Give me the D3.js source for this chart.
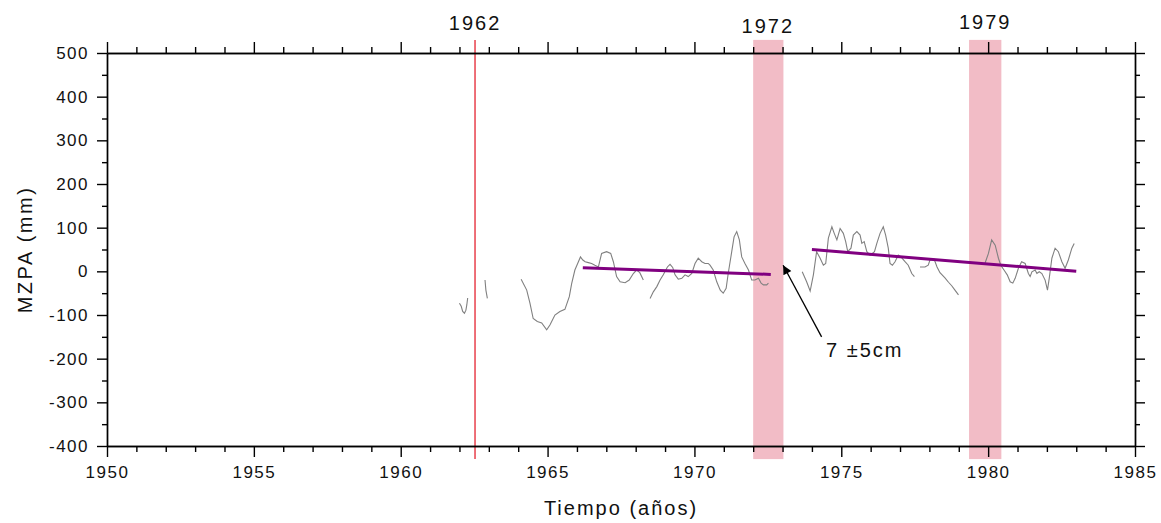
<!DOCTYPE html>
<html><head><meta charset="utf-8">
<script src="https://cdn.jsdelivr.net/npm/d3@7"></script>
<style>
html,body{margin:0;padding:0;background:#fff;}
svg{display:block;font-family:"Liberation Sans",Arial,sans-serif;}
</style></head>
<body>
<svg id="chart" width="1161" height="523"></svg>
<script>
// ---- data ----
const xDomain = [1950, 1985];
const yDomain = [-400, 500];
const xMajorTicks = [1950, 1955, 1960, 1965, 1970, 1975, 1980, 1985];
const yMajorTicks = [-400, -300, -200, -100, 0, 100, 200, 300, 400, 500];

// shaded event bands [start, end] (years)
const bandStarts = [1972.0, 1979.35];
const bandEnds   = [1973.03, 1980.45];
const markerYear = 1962.53;
const eventLabels = ["1962", "1972", "1979"];
const eventLabelYears = [1962.53, 1972.5, 1979.9];

// monthly sea-level anomaly segments [year, mm]
const seg1962a = [[1962.00,-73],[1962.06,-80],[1962.11,-92],[1962.17,-96],[1962.22,-89],[1962.25,-77],[1962.28,-61]];
const seg1962b = [[1962.87,-20],[1962.90,-43],[1962.95,-62]];
const seg1964 = [[1964.10,-18],[1964.29,-43],[1964.40,-73],[1964.51,-108],[1964.65,-115],[1964.80,-118],[1964.97,-134],
  [1965.08,-123],[1965.25,-100],[1965.42,-92],[1965.59,-87],[1965.74,-58],[1965.82,-28],[1965.93,3],[1966.05,22],
  [1966.12,33],[1966.20,26],[1966.28,22],[1966.39,20],[1966.50,18],[1966.61,14],[1966.73,10],[1966.84,41],[1967.01,45],
  [1967.15,41],[1967.24,22],[1967.35,-12],[1967.47,-24],[1967.64,-26],[1967.78,-20],[1967.92,-5],[1968.03,3],
  [1968.14,-3],[1968.26,-20]];
const seg1968 = [[1968.49,-62],[1968.60,-47],[1968.72,-35],[1968.83,-20],[1968.94,-8],[1969.08,10],[1969.17,16],
  [1969.26,9],[1969.34,-8],[1969.45,-18],[1969.57,-16],[1969.68,-8],[1969.79,-12],[1969.91,-5],[1970.02,18],
  [1970.13,30],[1970.25,22],[1970.36,18],[1970.47,18],[1970.53,14],[1970.64,3],[1970.76,-24],[1970.88,-43],
  [1970.98,-50],[1971.08,-39],[1971.15,-5],[1971.27,45],[1971.35,79],[1971.44,91],[1971.53,72],[1971.61,33],
  [1971.72,18],[1971.84,3],[1971.95,-20],[1972.06,-20],[1972.18,-16],[1972.27,-27],[1972.35,-31],[1972.46,-31],
  [1972.52,-27]];
const seg1974 = [[1973.67,-1],[1973.82,-24],[1973.94,-45],[1974.05,-8],[1974.16,45],[1974.28,30],[1974.39,14],
  [1974.47,18],[1974.56,76],[1974.68,102],[1974.76,87],[1974.85,72],[1974.96,98],[1975.07,87],[1975.15,68],
  [1975.22,45],[1975.33,53],[1975.41,83],[1975.53,91],[1975.64,83],[1975.70,64],[1975.78,68],[1975.87,45],
  [1975.98,37],[1976.13,45],[1976.21,64],[1976.32,87],[1976.43,102],[1976.51,83],[1976.60,53],[1976.66,18],
  [1976.74,14],[1976.83,22],[1976.94,37],[1977.03,33],[1977.17,22],[1977.28,14],[1977.40,-5],[1977.49,-12]];
const seg1978 = [[1977.68,10],[1977.85,10],[1977.96,14],[1978.02,26],[1978.16,28],[1978.26,10],[1978.36,-3],
  [1978.53,-15],[1978.65,-25],[1978.76,-33],[1978.87,-43],[1978.99,-54]];
const seg1980 = [[1979.89,18],[1980.01,41],[1980.12,72],[1980.24,60],[1980.35,30],[1980.43,14],[1980.54,3],
  [1980.65,-8],[1980.75,-24],[1980.84,-27],[1980.92,-16],[1981.03,7],[1981.14,22],[1981.26,18],[1981.37,-5],
  [1981.43,-12],[1981.49,-1],[1981.60,3],[1981.66,-5],[1981.74,-1],[1981.83,-5],[1981.94,-20],[1982.02,-43],
  [1982.08,-16],[1982.17,30],[1982.28,53],[1982.39,45],[1982.51,22],[1982.62,7],[1982.73,26],[1982.85,53],
  [1982.93,64]];
const seaLevelSegments = [seg1962a, seg1962b, seg1964, seg1968, seg1974, seg1978, seg1980];

// linear trends
const trendBefore = [[1966.2, 8], [1972.6, -7]];
const trendAfter  = [[1974.0, 50], [1983.0, 0]];

// annotation
const annotationText = "7 ±5cm";
const arrowFrom = [1974.33, -150];
const arrowTo   = [1973.02, 14];
const annotationAt = [1974.48, -197];

// ---- drawing ----
const svg = d3.select("#chart");
const x = d3.scaleLinear().domain(xDomain).range([107, 1135]);
const y = d3.scaleLinear().domain(yDomain).range([446, 53]);
const bandTop = 530, bandBottom = -430;

svg.append("defs").append("marker")
  .attr("id","ah").attr("viewBox","0 0 10 10").attr("refX",10).attr("refY",5)
  .attr("markerWidth",11).attr("markerHeight",9).attr("markerUnits","userSpaceOnUse")
  .attr("orient","auto")
  .append("path").attr("d","M0,0 L10,5 L0,10 Z").attr("fill","#000");

// bands
svg.append("g").selectAll("rect").data(d3.range(bandStarts.length)).join("rect")
  .attr("x", i => x(bandStarts[i]))
  .attr("width", i => x(bandEnds[i]) - x(bandStarts[i]))
  .attr("y", y(bandTop))
  .attr("height", y(bandBottom) - y(bandTop))
  .attr("fill", "#f2bcc6");

// red marker line
svg.append("line")
  .attr("x1", x(markerYear)).attr("x2", x(markerYear))
  .attr("y1", y(bandTop)).attr("y2", y(bandBottom))
  .attr("stroke", "#e8404c").attr("stroke-width", 1.5);

// sea level line
const line = d3.line().x(d => x(d[0])).y(d => y(d[1]));
svg.append("g").selectAll("path").data(seaLevelSegments).join("path")
  .attr("d", line).attr("fill","none").attr("stroke","#808080").attr("stroke-width",1.1);

// trends
svg.append("g").selectAll("path").data([trendBefore, trendAfter]).join("path")
  .attr("d", line).attr("fill","none").attr("stroke","#800080").attr("stroke-width",3);

// axes
const fmt = d => String(d);
const xMinor = d3.range(xDomain[0], xDomain[1] + 1, 1).filter(v => v % 5 !== 0);
const yMinor = d3.range(yDomain[0], yDomain[1] + 1, 50).filter(v => v % 100 !== 0);
function styleAxis(g){
  g.select(".domain").attr("stroke","#000").attr("stroke-width",1.4);
  g.selectAll(".tick line").attr("stroke","#000").attr("stroke-width",1.4);
}
const tickFont = g => g.selectAll("text")
  .attr("font-size", 17).attr("fill","#111").style("letter-spacing","1.5px")
  .attr("font-family", "'Liberation Sans',Arial,sans-serif");

svg.append("g").attr("transform","translate(0,"+y(yDomain[0])+")")
  .call(d3.axisBottom(x).tickValues(xMinor).tickSize(6).tickFormat("").tickSizeOuter(0)).call(styleAxis);
svg.append("g").attr("transform","translate(0,"+y(yDomain[0])+")")
  .call(d3.axisBottom(x).tickValues(xMajorTicks).tickSize(11).tickPadding(9).tickFormat(fmt).tickSizeOuter(0))
  .call(styleAxis).call(tickFont);
svg.append("g").attr("transform","translate(0,"+y(yDomain[1])+")")
  .call(d3.axisTop(x).tickValues(xMinor).tickSize(6).tickFormat("").tickSizeOuter(0)).call(styleAxis);
svg.append("g").attr("transform","translate(0,"+y(yDomain[1])+")")
  .call(d3.axisTop(x).tickValues(xMajorTicks).tickSize(11).tickFormat("").tickSizeOuter(0)).call(styleAxis);

svg.append("g").attr("transform","translate("+x(xDomain[0])+",0)")
  .call(d3.axisLeft(y).tickValues(yMinor).tickSize(5).tickFormat("").tickSizeOuter(0)).call(styleAxis);
svg.append("g").attr("transform","translate("+x(xDomain[0])+",0)")
  .call(d3.axisLeft(y).tickValues(yMajorTicks).tickSize(10).tickPadding(8).tickFormat(fmt).tickSizeOuter(0))
  .call(styleAxis).call(tickFont);
svg.append("g").attr("transform","translate("+x(xDomain[1])+",0)")
  .call(d3.axisRight(y).tickValues(yMinor).tickSize(5).tickFormat("").tickSizeOuter(0)).call(styleAxis);
svg.append("g").attr("transform","translate("+x(xDomain[1])+",0)")
  .call(d3.axisRight(y).tickValues(yMajorTicks).tickSize(10).tickFormat("").tickSizeOuter(0)).call(styleAxis);

// event labels
svg.append("g").selectAll("text").data(eventLabels).join("text")
  .attr("x", (d,i) => x(eventLabelYears[i]))
  .attr("y", (d,i) => i === 2 ? 29 : (i === 1 ? 33 : 30))
  .attr("text-anchor","middle").attr("font-size",20).style("letter-spacing","2px")
  .attr("fill","#111").text(d => d);

// axis titles
svg.append("text").attr("x", (x(xDomain[0]) + x(xDomain[1])) / 2).attr("y", 515)
  .attr("text-anchor","middle").attr("font-size",20).style("letter-spacing","2px").attr("fill","#111").text("Tiempo (años)");
svg.append("text").attr("transform","translate(32,"+((y(yDomain[0]) + y(yDomain[1])) / 2)+") rotate(-90)")
  .attr("text-anchor","middle").attr("font-size",20).style("letter-spacing","2.5px").attr("fill","#111").text("MZPA (mm)");

// annotation arrow + text
svg.append("line")
  .attr("x1", x(arrowFrom[0])).attr("y1", y(arrowFrom[1]))
  .attr("x2", x(arrowTo[0])).attr("y2", y(arrowTo[1]))
  .attr("stroke","#000").attr("stroke-width",1.3).attr("marker-end","url(#ah)");
svg.append("text").attr("x", x(annotationAt[0])).attr("y", y(annotationAt[1]))
  .attr("font-size",20).style("letter-spacing","2px").attr("fill","#111").text(annotationText);
</script>
</body></html>
